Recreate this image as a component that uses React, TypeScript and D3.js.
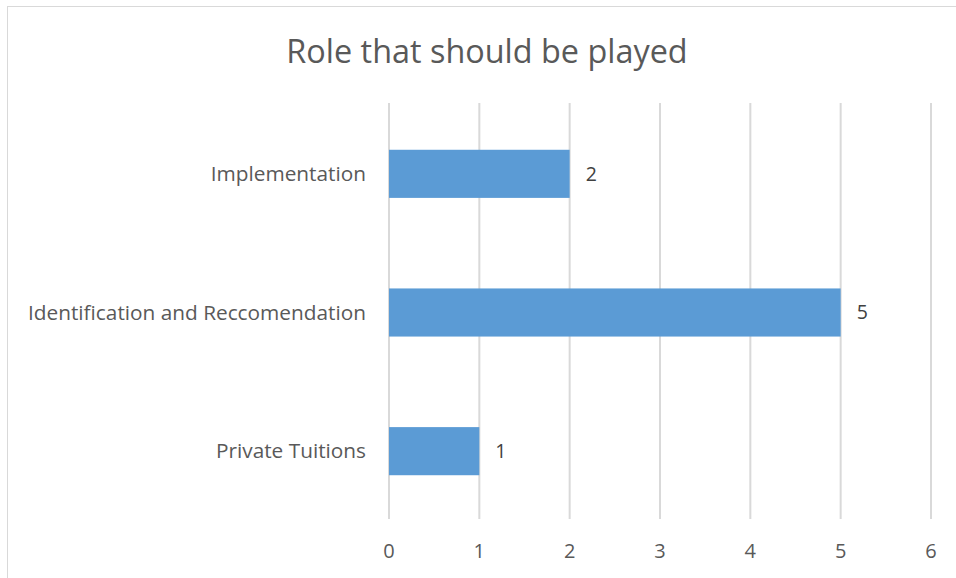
import React from "react";
import * as d3 from "d3";

const categories = ["Implementation", "Identification and Reccomendation", "Private Tuitions"];
const values = [2, 5, 1];
const xTicks = [0, 1, 2, 3, 4, 5, 6];
const title = "Role that should be played";

export default function App() {
  const W = 956, H = 578;
  const left = 389, right = 931, top = 103, bottom = 519;
  const x = d3.scaleLinear().domain([0, 6]).range([left, right]);
  const y = d3.scaleBand().domain(categories).range([top + 1.5, bottom + 1.5]).paddingInner(0.653).paddingOuter(0.3265);
  const font = "'Open Sans', 'Noto Sans', sans-serif";
  return (
    <svg width={W} height={H} style={{ position: "absolute", left: 0, top: 0, background: "#fff" }} fontFamily={font}>
      <rect x={7.5} y={6.5} width={1000} height={1000} fill="#fff" stroke="#d9d9d9" strokeWidth={1} />
      <text x={487} y={63} textAnchor="middle" fontSize={32.4} fill="#595959">{title}</text>
      {xTicks.map(t => (
        <line key={t} x1={x(t)} x2={x(t)} y1={top} y2={bottom} stroke="#d9d9d9" strokeWidth={2} />
      ))}
      {categories.map((c, i) => (
        <g key={c}>
          <rect x={x(0)} y={y(c)!} width={x(values[i]) - x(0)} height={y.bandwidth()} fill="#5b9bd5" />
          <text x={x(values[i]) + 16} y={y(c)! + y.bandwidth() / 2} dy="0.35em" fontSize={19.5} fill="#404040">{values[i]}</text>
          <text x={366} y={y(c)! + y.bandwidth() / 2} dy="0.35em" textAnchor="end" fontSize={20.8} fill="#595959">{c}</text>
        </g>
      ))}
      {xTicks.map(t => (
        <text key={t} x={x(t)} y={551} dy="0.35em" textAnchor="middle" fontSize={20} fill="#595959">{t}</text>
      ))}
    </svg>
  );
}
